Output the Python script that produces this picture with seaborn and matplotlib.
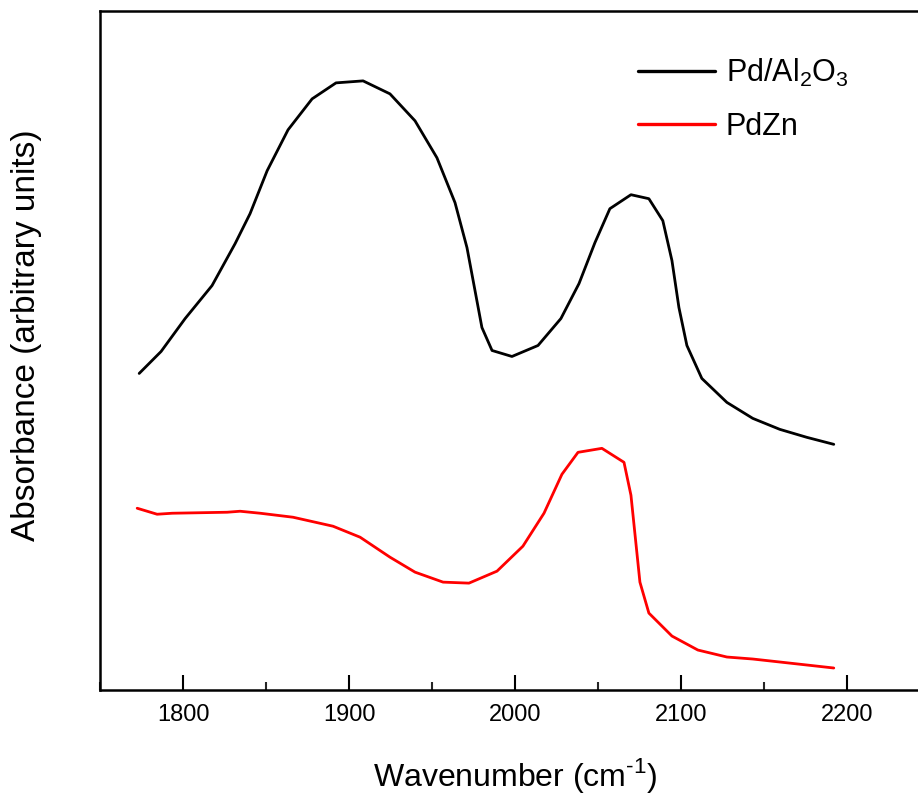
import matplotlib
matplotlib.use("Agg")
import matplotlib.pyplot as plt
import seaborn as sns
import pandas as pd
from matplotlib.ticker import MultipleLocator

sns.set_theme(style="white")
plt.rcParams['font.family'] = ['Liberation Sans', 'DejaVu Sans']
plt.rcParams['mathtext.fontset'] = 'custom'
plt.rcParams['mathtext.rm'] = 'Liberation Sans'
plt.rcParams['text.color'] = 'black'
plt.rcParams['axes.labelcolor'] = 'black'

# Pd/Al2O3 spectrum
wn_pdal = [1773.4, 1786.6, 1801.1, 1817.3, 1831.2, 1840.2, 1850.5, 1863.1, 1877.6, 1892.0,
           1908.3, 1924.5, 1939.6, 1952.8, 1963.7, 1970.9, 1979.9, 1986.0, 1998.0, 2013.7,
           2027.5, 2038.4, 2048.0, 2057.0, 2069.7, 2080.5, 2088.9, 2094.4, 2098.6, 2103.4,
           2112.4, 2127.5, 2143.1, 2159.4, 2175.7, 2191.9]
abs_pdal = [3.17, 3.39, 3.72, 4.05, 4.47, 4.77, 5.20, 5.61, 5.92, 6.08,
            6.10, 5.97, 5.70, 5.33, 4.88, 4.43, 3.63, 3.40, 3.34, 3.45,
            3.72, 4.07, 4.48, 4.82, 4.96, 4.92, 4.70, 4.30, 3.83, 3.45,
            3.12, 2.88, 2.72, 2.61, 2.53, 2.46]

# PdZn spectrum
wn_pdzn = [1772.2, 1784.2, 1793.3, 1826.4, 1834.2, 1846.3, 1866.1, 1890.2, 1906.5, 1924.5,
           1939.6, 1956.5, 1972.1, 1989.0, 2004.6, 2017.3, 2028.1, 2037.8, 2052.2, 2065.5,
           2069.7, 2075.1, 2080.5, 2094.4, 2110.0, 2127.5, 2143.1, 2159.4, 2175.7, 2191.9]
abs_pdzn = [1.82, 1.76, 1.77, 1.78, 1.79, 1.77, 1.73, 1.64, 1.53, 1.33,
            1.18, 1.08, 1.07, 1.19, 1.44, 1.77, 2.16, 2.38, 2.42, 2.28,
            1.95, 1.08, 0.77, 0.54, 0.40, 0.33, 0.31, 0.28, 0.25, 0.22]

labels = [r'Pd/Al$_\mathregular{2}$O$_\mathregular{3}$', 'PdZn']
colors = ['black', '#ff0000']
xticks = [1800, 1900, 2000, 2100, 2200]

df = pd.concat([
    pd.DataFrame({'wn': wn_pdal, 'A': abs_pdal, 'sample': labels[0]}),
    pd.DataFrame({'wn': wn_pdzn, 'A': abs_pdzn, 'sample': labels[1]}),
])

fig = plt.figure(figsize=(9.18, 7.96), dpi=100)
ax = fig.add_axes([0.1093, 0.1332, 0.904, 0.8530])
sns.lineplot(data=df, x='wn', y='A', hue='sample', palette=dict(zip(labels, colors)),
             estimator=None, sort=False, linewidth=2.0, ax=ax, legend=True)

ax.set_xlim(1750, 2250)
ax.set_ylim(0, 6.8)
ax.set_xticks(xticks)
ax.xaxis.set_minor_locator(MultipleLocator(50))
ax.set_yticks([])
ax.tick_params(axis='x', which='major', direction='in', length=11, width=1.5,
               labelsize=17, pad=10, colors='black', bottom=True)
ax.tick_params(axis='x', which='minor', direction='in', length=6, width=1.5, bottom=True)
for sp in ax.spines.values():
    sp.set_linewidth(1.8)
    sp.set_color('black')
ax.spines['right'].set_visible(False)

ax.set_xlabel(r'Wavenumber (cm$^\mathregular{\text{-}1}$)', fontsize=23, labelpad=22)
ax.set_ylabel('Absorbance (arbitrary units)', fontsize=24)
ax.yaxis.set_label_coords(-0.070, 0.522)

leg = ax.legend(loc='upper left', bbox_to_anchor=(0.630, 0.955), frameon=False, fontsize=22,
                handlelength=2.5, handletextpad=0.35, labelspacing=0.75, borderpad=0)
for h in leg.get_lines():
    h.set_linewidth(2.4)

fig.savefig('out.png', dpi=100, facecolor='white')
